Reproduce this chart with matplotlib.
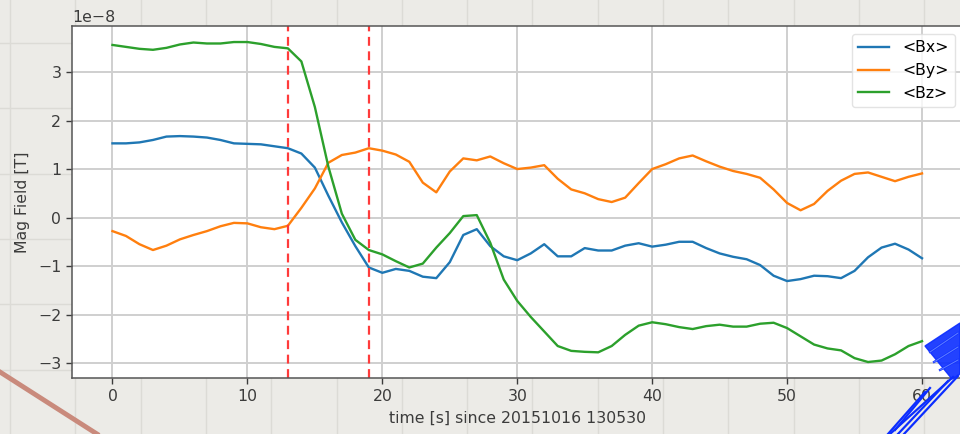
import matplotlib
matplotlib.use("Agg")
import matplotlib.pyplot as plt
from matplotlib.lines import Line2D
from matplotlib.patches import Polygon
import numpy as np

# time axis, one sample per second
t = np.arange(0, 61)

# field components in units of 1e-8 T
bx = [1.53, 1.53, 1.55, 1.60, 1.67, 1.68, 1.67, 1.65, 1.60, 1.53,
      1.52, 1.51, 1.47, 1.43, 1.32, 1.03, 0.45, -0.10, -0.59, -1.03,
      -1.14, -1.06, -1.10, -1.22, -1.25, -0.92, -0.36, -0.24, -0.59, -0.80,
      -0.88, -0.74, -0.55, -0.80, -0.80, -0.63, -0.68, -0.68, -0.58, -0.53,
      -0.60, -0.56, -0.50, -0.50, -0.63, -0.74, -0.81, -0.86, -0.98, -1.20,
      -1.31, -1.27, -1.20, -1.21, -1.25, -1.10, -0.82, -0.62, -0.54, -0.66,
      -0.84]
by = [-0.28, -0.38, -0.55, -0.67, -0.58, -0.45, -0.36, -0.28, -0.18, -0.11,
      -0.12, -0.20, -0.24, -0.17, 0.20, 0.60, 1.13, 1.29, 1.34, 1.43,
      1.38, 1.30, 1.15, 0.72, 0.52, 0.95, 1.22, 1.18, 1.26, 1.12,
      1.00, 1.03, 1.08, 0.80, 0.58, 0.50, 0.38, 0.32, 0.41, 0.71,
      1.00, 1.10, 1.22, 1.28, 1.16, 1.05, 0.96, 0.90, 0.82, 0.58,
      0.30, 0.15, 0.28, 0.55, 0.76, 0.90, 0.93, 0.84, 0.75, 0.84,
      0.91]
bz = [3.56, 3.52, 3.48, 3.46, 3.50, 3.57, 3.61, 3.59, 3.59, 3.62,
      3.62, 3.58, 3.52, 3.49, 3.22, 2.28, 1.05, 0.08, -0.46, -0.67,
      -0.76, -0.90, -1.03, -0.95, -0.62, -0.32, 0.03, 0.05, -0.52, -1.28,
      -1.72, -2.05, -2.35, -2.65, -2.75, -2.77, -2.78, -2.65, -2.42, -2.23,
      -2.16, -2.20, -2.26, -2.30, -2.24, -2.21, -2.25, -2.25, -2.19, -2.17,
      -2.28, -2.45, -2.62, -2.70, -2.74, -2.90, -2.98, -2.95, -2.82, -2.65,
      -2.55]
series = [("<Bx>", bx, "#1f77b4"), ("<By>", by, "#ff7f0e"), ("<Bz>", bz, "#2ca02c")]

# interval markers
markers_t = [13, 19]

plt.rcParams["font.family"] = "DejaVu Sans"
plt.rcParams["font.size"] = 11.3
plt.rcParams["xtick.major.size"] = 4.2
plt.rcParams["ytick.major.size"] = 4.2
fig = plt.figure(figsize=(9.6, 4.34), dpi=100)
fig.patch.set_facecolor("#ecebe7")


def px(x, y):
    # pixel position -> figure fraction
    return x / 960, 1 - y / 434


# graph paper behind the plot
for gx in np.arange(10, 960, 65.3):
    fig.add_artist(Line2D([gx / 960, gx / 960], [0, 1], transform=fig.transFigure,
                          color="#dcdbd6", lw=1.0, zorder=0))
for gy in np.arange(43, 434, 65.3):
    fig.add_artist(Line2D([0, 1], [1 - gy / 434, 1 - gy / 434], transform=fig.transFigure,
                          color="#dcdbd6", lw=1.0, zorder=0))

ax = fig.add_axes([0.075, 0.129, 0.9276, 0.811])
ax.set_facecolor("white")
for name, vals, col in series:
    ax.plot(t, np.array(vals) * 1e-8, color=col, lw=1.7, label=name)
for m in markers_t:
    ax.axvline(m, color="#ff3b3b", lw=1.6, ls=(0, (4, 2.5)))

ax.grid(True, color="#cfcfcf", lw=1.4)
ax.set_axisbelow(True)
ax.set_xlabel("time [s] since 20151016 130530", color="#3c3c3c", labelpad=5)
ax.set_ylabel("Mag Field [T]", color="#3c3c3c", labelpad=6)
ax.tick_params(colors="#3c3c3c", labelcolor="#3c3c3c", width=1.0)
ax.yaxis.get_offset_text().set_color("#3c3c3c")
for s in ax.spines.values():
    s.set_color("#555555")
    s.set_linewidth(1.1)
ax.legend(loc="upper right", framealpha=0.8, edgecolor="#dddddd")

# pen marks on the paper
fig.add_artist(Line2D([0, 97 / 960], [1 - 372 / 434, 0], transform=fig.transFigure,
                      color="#c98a7c", lw=3.5, zorder=5))
blue = "#0b2dff"
fig.add_artist(Polygon([px(925, 346), px(960, 323), px(960, 374), px(952, 379)],
                       closed=True, transform=fig.transFigure, facecolor=blue,
                       edgecolor=blue, lw=1.0, alpha=0.9, zorder=6))
strokes = [
    [(930, 352), (958, 333)], [(934, 362), (958, 347)], [(940, 370), (958, 360)],
    [(953, 377), (890, 434)], [(948, 381), (898, 434)], [(958, 376), (904, 434)],
    [(925, 392), (888, 434)], [(930, 388), (895, 430)],
]
for (x0, y0), (x1, y1) in strokes:
    (a0, b0), (a1, b1) = px(x0, y0), px(x1, y1)
    fig.add_artist(Line2D([a0, a1], [b0, b1], transform=fig.transFigure,
                          color=blue, lw=1.6, zorder=7))
for (x0, y0), (x1, y1) in strokes[:3]:
    (a0, b0), (a1, b1) = px(x0, y0), px(x1, y1)
    fig.add_artist(Line2D([a0, a1], [b0, b1], transform=fig.transFigure,
                          color="#5d7bff", lw=0.8, zorder=7))

fig.savefig("out.png", dpi=100, facecolor=fig.get_facecolor())
